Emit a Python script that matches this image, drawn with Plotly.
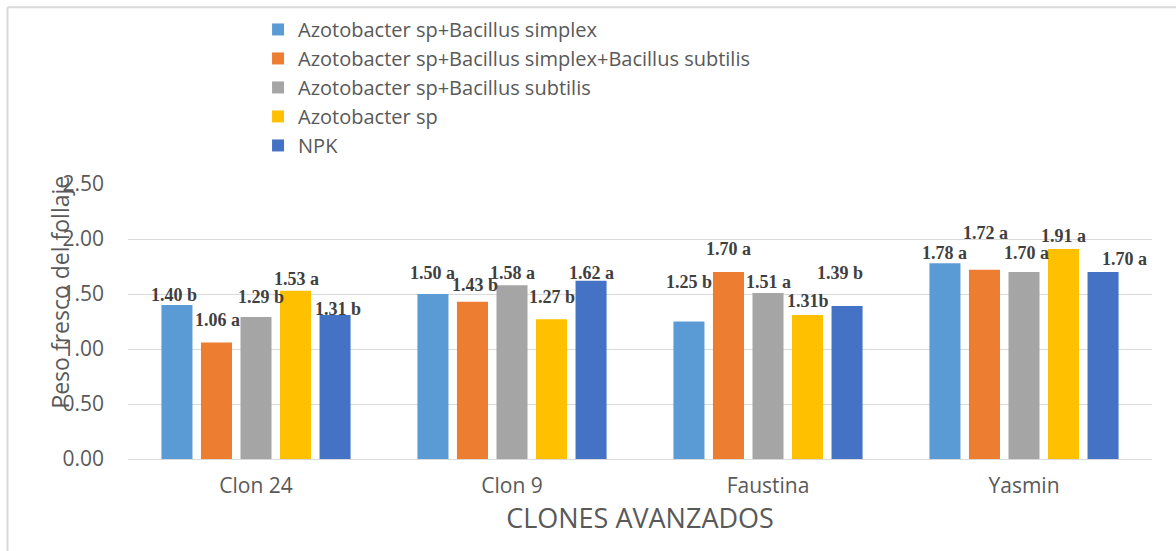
import plotly.graph_objects as go

categories = ["Clon 24", "Clon 9", "Faustina", "Yasmin"]
series_names = [
    "Azotobacter sp+Bacillus simplex",
    "Azotobacter sp+Bacillus simplex+Bacillus subtilis",
    "Azotobacter sp+Bacillus subtilis",
    "Azotobacter sp",
    "NPK",
]
s1_values = [1.40, 1.50, 1.25, 1.78]
s2_values = [1.06, 1.43, 1.70, 1.72]
s3_values = [1.29, 1.58, 1.51, 1.70]
s4_values = [1.53, 1.27, 1.31, 1.91]
s5_values = [1.31, 1.62, 1.39, 1.70]
s1_labels = ["1.40 b", "1.50 a", "1.25 b", "1.78 a"]
s2_labels = ["1.06 a", "1.43 b", "1.70 a", "1.72 a"]
s3_labels = ["1.29 b", "1.58 a", "1.51 a", "1.70 a"]
s4_labels = ["1.53 a", "1.27 b", "1.31b", "1.91 a"]
s5_labels = ["1.31 b", "1.62 a", "1.39 b", "1.70 a"]
y_ticks = [0.0, 0.5, 1.0, 1.5, 2.0, 2.5]
y_tick_labels = ["0.00", "0.50", "1.00", "1.50", "2.00", "2.50"]

# styling: manual label placement (pixel offsets of each data label, as in the original)
label_dy = [
    [10, 21, 40, 10],
    [22, 17, 23, 37],
    [20, 12, 11, 19],
    [12, 22, 14, 13],
    [6, 8, 33, 13],
]
label_dx = [
    [-3, 0, 0, 0],
    [1, 3, 0, 1],
    [5, 0, 0, 2],
    [1, 0, 0, 0],
    [3, 0, -7, 21],
]

colors = ["#5B9BD5", "#ED7D31", "#A5A5A5", "#FFC000", "#4472C4"]
values = [s1_values, s2_values, s3_values, s4_values, s5_values]
labels = [s1_labels, s2_labels, s3_labels, s4_labels, s5_labels]

W, H = 1176, 551
ML, MR, MT, MB = 128, 24, 183, 92
BARGAP, BARGROUPGAP = 0.228, 0.215

fig = go.Figure()
for name, vals, col in zip(series_names, values, colors):
    fig.add_trace(go.Bar(
        x=categories, y=vals, name=name,
        marker=dict(color=col, line=dict(width=0)),
    ))

# data labels anchored to each bar's value
plot_w = W - ML - MR
slot = plot_w / len(categories) * (1 - BARGAP) / len(series_names)
annotations = []
n = len(series_names)
for i in range(n):
    for j, cat in enumerate(categories):
        annotations.append(dict(
            x=cat, y=values[i][j], xref="x", yref="y", text=labels[i][j],
            showarrow=False, xanchor="center", yanchor="middle",
            xshift=(i - (n - 1) / 2) * slot + label_dx[i][j], yshift=label_dy[i][j],
            font=dict(family="Liberation Serif", size=18, color="#404040", weight="bold"),
        ))

annotations.append(dict(
    text="Peso fresco del follaje", textangle=-90,
    xref="paper", yref="paper", x=-0.0664, y=0.605, xanchor="center", yanchor="middle",
    showarrow=False, font=dict(family="Open Sans", size=23, color="#595959"),
))

axis_font = dict(family="Open Sans", size=21, color="#595959")
fig.update_layout(
    width=W, height=H,
    margin=dict(l=ML, r=MR, t=MT, b=MB),
    paper_bgcolor="white", plot_bgcolor="white",
    barmode="group", bargap=BARGAP, bargroupgap=BARGROUPGAP,
    showlegend=True,
    legend=dict(
        x=0.127, y=1.627, xanchor="left", yanchor="top",
        font=dict(family="Open Sans", size=20, color="#595959"),
        bgcolor="rgba(0,0,0,0)", traceorder="normal",
        itemwidth=30,
    ),
    xaxis=dict(
        tickfont=axis_font, showgrid=False, showline=False, ticklabelstandoff=12,
        title=dict(text="CLONES AVANZADOS", font=dict(family="Open Sans", size=27, color="#595959"), standoff=4),
    ),
    yaxis=dict(
        range=[0, 2.5], tickvals=y_ticks, ticktext=y_tick_labels,
        tickfont=axis_font, gridcolor="#D9D9D9", gridwidth=1,
        zeroline=True, zerolinecolor="#D9D9D9", zerolinewidth=1,
        showline=False, ticklabelstandoff=23,
    ),
    annotations=annotations,
    shapes=[
        dict(type="line", xref="paper", yref="paper", x0=-0.1177, x1=1.03, y0=1.643, y1=1.643,
             line=dict(color="#D9D9D9", width=2)),
        dict(type="line", xref="paper", yref="paper", x0=-0.1177, x1=-0.1177, y0=1.643, y1=-0.35,
             line=dict(color="#D9D9D9", width=2)),
    ],
)

fig.write_html("out.html", config={"displayModeBar": False},
               post_script="document.body.style.margin='0';")
